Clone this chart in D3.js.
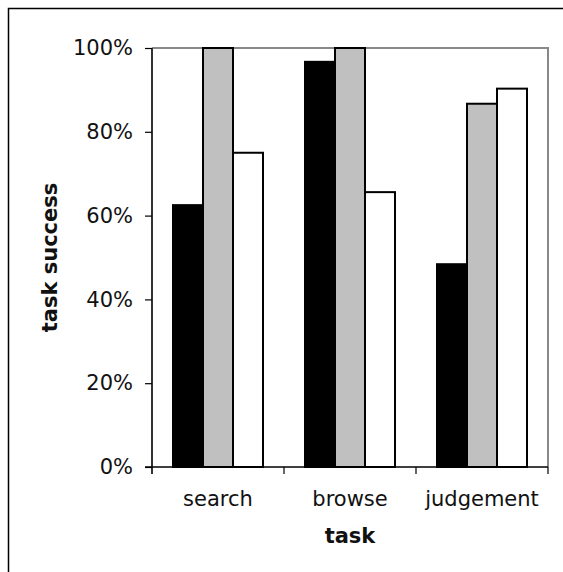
<!DOCTYPE html>
<html>
<head>
<meta charset="utf-8">
<script src="https://cdnjs.cloudflare.com/ajax/libs/d3/7.8.5/d3.min.js"></script>
<style>
    body { margin: 0; background: #fff; }
    svg text { font-family: "DejaVu Sans", Verdana, sans-serif; fill: #111; }
    .tick-label { font-size: 21px; }
    .axis-title { font-size: 21px; font-weight: bold; }
</style>
</head>
<body>
<div class="chart"></div>
<script>
// chart data
var categories = ["search", "browse", "judgement"];
var seriesNames = ["a", "b", "c"];
var seriesBlack = [62.5, 96.7, 48.4];
var seriesGray = [100, 100, 86.7];
var seriesWhite = [75, 65.6, 90.3];
var yTicks = [0, 20, 40, 60, 80, 100];
var seriesFills = ["#000000", "#c0c0c0", "#ffffff"];

function drawChart() {
    var margin = {top: 48, right: 15, bottom: 105, left: 152};
    var width = 563 - margin.left - margin.right;
    var height = 572 - margin.top - margin.bottom;

    var svg = d3.select(".chart").append("svg")
        .attr("width", 563)
        .attr("height", 572);

    // outer frame (only left and top edges show in the picture)
    svg.append("rect")
        .attr("x", 8.5)
        .attr("y", 8.5)
        .attr("width", 600)
        .attr("height", 600)
        .attr("fill", "none")
        .attr("stroke", "#000")
        .attr("stroke-width", 1.5);

    var g = svg.append("g")
        .attr("transform", `translate(${margin.left}, ${margin.top})`);

    // scales
    var x0 = d3.scaleBand().domain(categories).range([0, width]).padding(0);
    var x1 = d3.scaleBand().domain(seriesNames).range([0, x0.bandwidth()])
        .paddingInner(0).paddingOuter(0.7);
    var y = d3.scaleLinear().domain([0, 100]).range([height, 0]);

    // plot area border, gray on top and right
    g.append("path")
        .attr("d", `M0,0H${width}V${height}`)
        .attr("fill", "none")
        .attr("stroke", "#888")
        .attr("stroke-width", 2);

    // bars
    var table = categories.map((c, i) => ({
        name: c,
        values: [seriesBlack[i], seriesGray[i], seriesWhite[i]]
    }));

    var groups = g.selectAll(".group")
        .data(table)
        .enter()
        .append("g")
        .attr("transform", d => `translate(${x0(d.name)}, 0)`);

    groups.selectAll("rect")
        .data(d => d.values.map((v, j) => ({series: seriesNames[j], value: v, fill: seriesFills[j]})))
        .enter()
        .append("rect")
        .attr("x", d => x1(d.series))
        .attr("y", d => y(d.value))
        .attr("width", x1.bandwidth())
        .attr("height", d => height - y(d.value))
        .attr("fill", d => d.fill)
        .attr("stroke", "#000")
        .attr("stroke-width", 2);

    // y axis
    var yAxis = g.append("g")
        .call(d3.axisLeft(y).tickValues(yTicks).tickSize(7).tickPadding(12)
            .tickFormat(d => d + "%"));
    yAxis.select(".domain").attr("d", `M0,0V${height + 7}`).attr("stroke", "#333").attr("stroke-width", 2);
    yAxis.selectAll(".tick line").attr("stroke", "#000").attr("stroke-width", 1.2);
    yAxis.selectAll(".tick text").attr("class", "tick-label").attr("fill", "#111");

    // x axis, ticks at category boundaries
    var xAxis = g.append("g")
        .attr("transform", `translate(0, ${height})`);
    xAxis.append("line")
        .attr("x1", -7)
        .attr("x2", width)
        .attr("stroke", "#000")
        .attr("stroke-width", 1.5);
    xAxis.selectAll(".xtick")
        .data(categories.slice(1).concat([null]))
        .enter()
        .append("line")
        .attr("x1", d => d === null ? width : x0(d))
        .attr("x2", d => d === null ? width : x0(d))
        .attr("y1", 0)
        .attr("y2", 7)
        .attr("stroke", "#000")
        .attr("stroke-width", 1.2);
    xAxis.selectAll(".xlabel")
        .data(categories)
        .enter()
        .append("text")
        .attr("class", "tick-label")
        .attr("x", d => x0(d) + x0.bandwidth() / 2)
        .attr("y", 39)
        .attr("text-anchor", "middle")
        .text(d => d);

    // axis titles
    svg.append("text")
        .attr("class", "axis-title")
        .attr("x", margin.left + width / 2)
        .attr("y", 543)
        .attr("text-anchor", "middle")
        .text("task");

    svg.append("text")
        .attr("class", "axis-title")
        .attr("transform", `translate(57, ${margin.top + height / 2}) rotate(-90)`)
        .attr("text-anchor", "middle")
        .text("task success");
}

drawChart();
</script>
</body>
</html>
